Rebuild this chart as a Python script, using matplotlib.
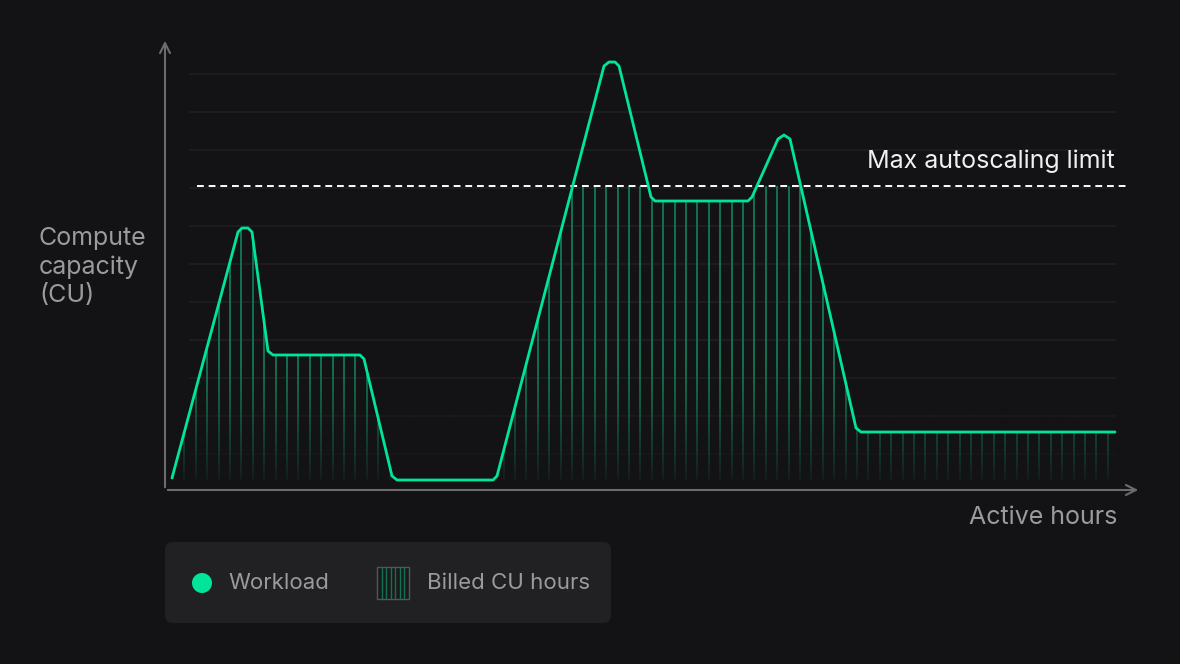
import matplotlib.pyplot as plt
import numpy as np
from matplotlib.patches import FancyBboxPatch, Circle, Rectangle
from matplotlib.colors import to_rgb

plt.rcParams['font.family'] = ['Inter', 'DejaVu Sans']

# workload curve (hours, capacity in CU)
hours = [0.7, 7.3, 7.7, 8.3, 8.7, 10.3, 10.8, 19.5, 19.9, 22.7, 23.2, 32.8, 33.2,
         43.9, 44.4, 45.0, 45.4, 48.6, 49.0, 58.3, 58.7, 61.3, 61.9, 62.5, 69.1, 69.6, 95.0]
capacity = [1.2, 25.8, 26.2, 26.2, 25.8, 13.9, 13.5, 13.5, 13.1, 1.4, 1.0, 1.0, 1.4,
            42.4, 42.8, 42.8, 42.4, 29.3, 28.9, 28.9, 29.3, 35.1, 35.5, 35.1, 6.2, 5.8, 5.8]
limit = 30.4
grid_levels = [3.6, 7.4, 11.2, 15.0, 18.8, 22.6, 26.4, 30.2, 34.0, 37.8, 41.6]
billed_hours = np.arange(0.8, 94.5, 1.14)

BG = '#131315'
GREEN = '#00e599'
AXIS = '#6b6b70'

fig = plt.figure(figsize=(11.8, 6.64), dpi=100, facecolor=BG)
ax = fig.add_axes([0, 0, 1, 1])
ax.set_facecolor(BG)
ax.set_xlim(-16.5, 101.5)
ax.set_ylim(-17.4, 49.0)
ax.axis('off')

# grid
for g in grid_levels:
    ax.plot([2.5, 95], [g, g], color='#202023', lw=1.2, zorder=1)

# billed hours hatch
billed_top = np.minimum(np.interp(billed_hours, hours, capacity), limit)
ax.vlines(billed_hours, 1.0, billed_top, color='#14714f', lw=1.4, zorder=2)

# fade toward the bottom
bg = to_rgb(BG)
n = 200
grad = np.zeros((n, 2, 4))
grad[..., :3] = bg
grad[..., 3] = np.linspace(1, 0, n)[:, None] ** 1.3
ax.imshow(grad, extent=(0, 96, 0, 13), origin='lower', aspect='auto', zorder=3,
          interpolation='bilinear')

# workload line
ax.plot(hours, capacity, color=GREEN, lw=2, zorder=5, solid_joinstyle='round',
        solid_capstyle='round')

# limit
ax.plot([3.2, 96.5], [limit, limit], color='white', lw=1.4, ls=(0, (3.5, 2.5)), zorder=4)
ax.text(95.0, 31.7, 'Max autoscaling limit', color='#f0f0f0', fontsize=18,
        ha='right', va='bottom')

# axes with arrows
ax.annotate('', xy=(0, 45.2), xytext=(0, 0),
            arrowprops=dict(arrowstyle='->', color=AXIS, lw=1.5, mutation_scale=18))
ax.annotate('', xy=(97.6, 0), xytext=(0, 0),
            arrowprops=dict(arrowstyle='->', color=AXIS, lw=1.5, mutation_scale=18))

ax.text(-12.6, 22.3, 'Compute\ncapacity\n(CU)', color='#9a9a9f', fontsize=18,
        ha='left', va='center', linespacing=1.3)
ax.text(95.2, -2.8, 'Active hours', color='#9a9a9f', fontsize=18, ha='right', va='center')

# legend box
ax.add_patch(FancyBboxPatch((0.0, -13.3), 44.6, 8.1, boxstyle='round,pad=0,rounding_size=0.8',
                            fc='#212124', ec='none', zorder=6))
ax.add_patch(Circle((3.7, -9.3), 1.0, fc=GREEN, ec='none', zorder=7))
ax.text(6.3, -9.3, 'Workload', color='#9a9a9f', fontsize=16, va='center', zorder=7)
ax.add_patch(Rectangle((21.2, -10.9), 3.2, 3.2, fc='#1a1a1c', ec='#55555a', lw=1, zorder=7))
for hx in np.linspace(21.7, 23.9, 6):
    ax.plot([hx, hx], [-10.8, -7.8], color='#14714f', lw=1, zorder=8)
ax.text(26.2, -9.3, 'Billed CU hours', color='#9a9a9f', fontsize=16, va='center', zorder=7)

fig.savefig('out.png', dpi=100, facecolor=BG)
